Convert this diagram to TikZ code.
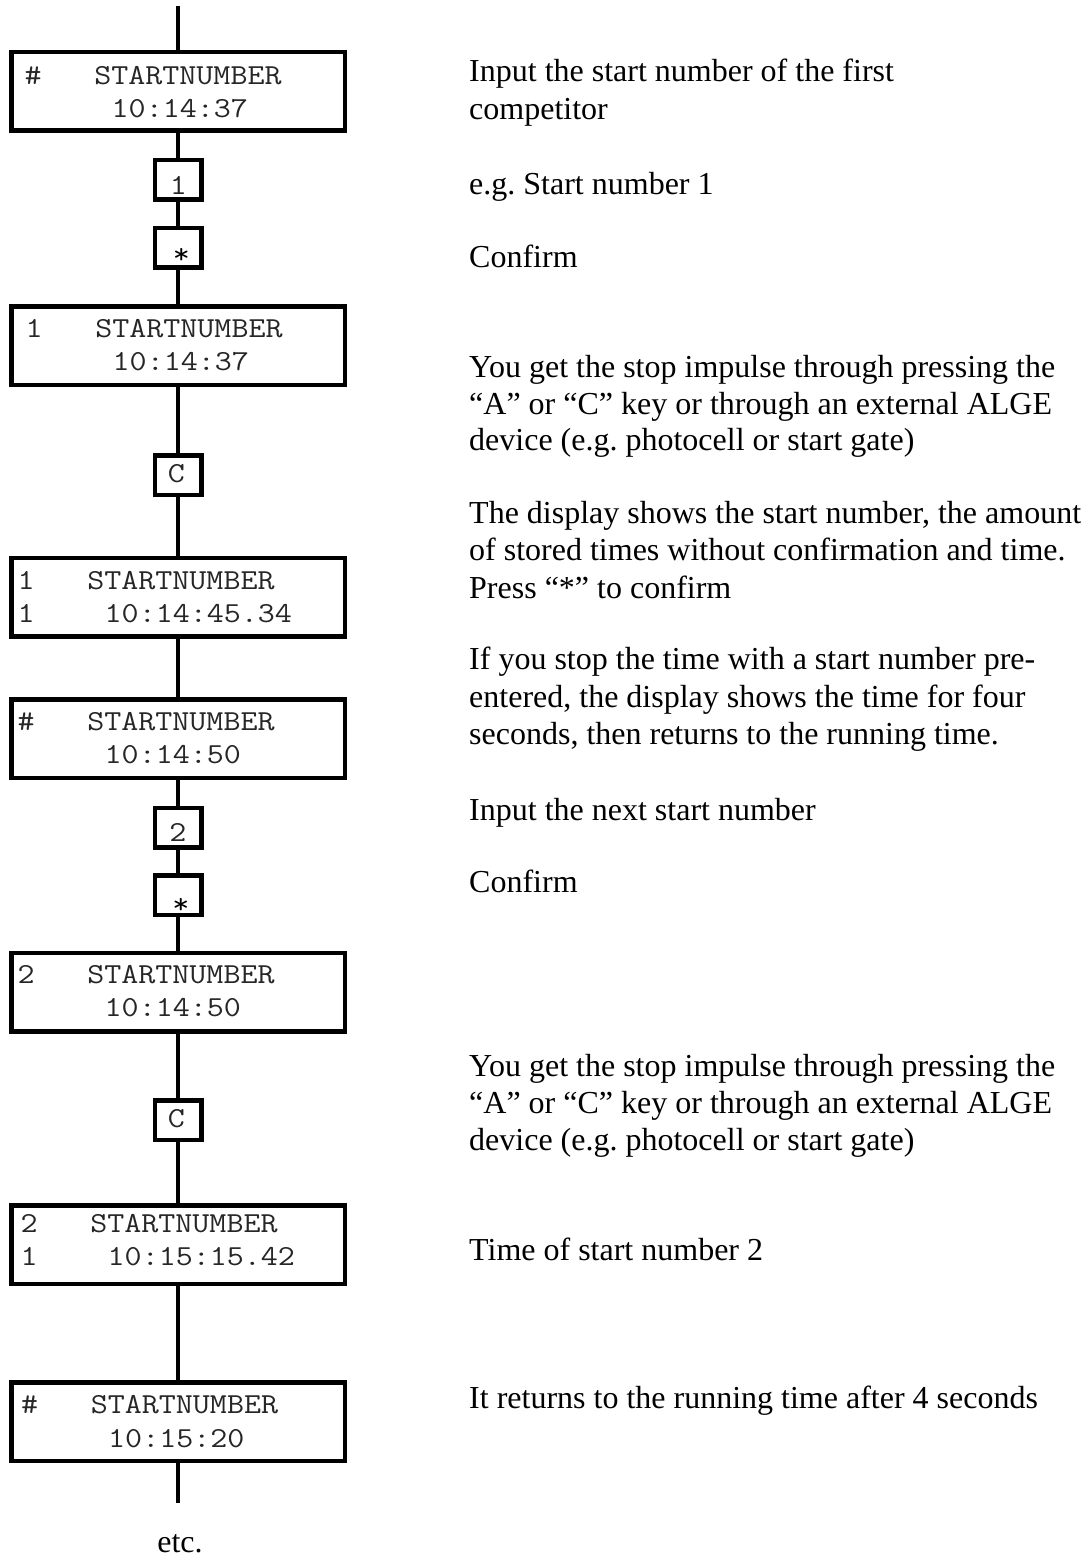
\documentclass[tikz,border=0pt]{standalone}
\usepackage{fontspec}
\setmainfont{Liberation Serif}
\newfontfamily\lcdfont{Latin Modern Mono}[FakeStretch=1.14]
\frenchspacing
\begin{document}
\begin{tikzpicture}[x=1pt,y=-1pt,
  lcd/.style={draw, line width=4.5pt, minimum width=333.5pt, minimum height=78.5pt, inner sep=0pt},
  keybox/.style={draw, line width=4.5pt, minimum width=46.5pt, minimum height=39.5pt, inner sep=0pt},
  mono/.style={anchor=base west, inner sep=0pt, text=black!85, font=\lcdfont\fontsize{29}{33}\selectfont},
  keytxt/.style={anchor=base, inner sep=0pt, text=black!85, font=\lcdfont\fontsize{29}{33}\selectfont},
  startxt/.style={anchor=north, inner sep=0pt, font=\lcdfont\fontsize{29}{33}\selectfont},
  desc/.style={anchor=base west, inner sep=0pt, font=\fontsize{32}{36.8}\selectfont},
  conn/.style={line width=3.5pt}]
\useasboundingbox (0,0) rectangle (1090,1557);

% display boxes
\node[lcd] (b1) at (178,91.5) {};
\node[lcd] (b2) at (178,345.5) {};
\node[lcd] (b3) at (178,597) {};
\node[lcd] (b4) at (178,738.5) {};
\node[lcd] (b5) at (178,992) {};
\node[lcd] (b6) at (178,1244.5) {};
\node[lcd] (b7) at (178,1421.5) {};

% key boxes
\node[keybox] (k1) at (178,180) {};
\node[keybox] (ks1) at (178,247.5) {};
\node[keybox] (kc1) at (178,475) {};
\node[keybox] (k2) at (178,827.5) {};
\node[keybox] (ks2) at (178,895) {};
\node[keybox] (kc2) at (178,1120) {};

% key texts
\node[keytxt] (k1t) at (178.5,194) {1};
\node[startxt] (ks1t) at (181.5,248) {*};
\node[keytxt] (kc1t) at (176.5,482) {C};
\node[keytxt] (k2t) at (178,841) {2};
\node[startxt] (ks2t) at (181,898) {*};
\node[keytxt] (kc2t) at (176.5,1127.5) {C};

% connectors
\coordinate (top) at (178,6);
\coordinate (bot) at (178,1503);
\draw[conn] (top) -- (b1.north);
\draw[conn] (b1.south) -- (k1.north);
\draw[conn] (k1.south) -- (ks1.north);
\draw[conn] (ks1.south) -- (b2.north);
\draw[conn] (b2.south) -- (kc1.north);
\draw[conn] (kc1.south) -- (b3.north);
\draw[conn] (b3.south) -- (b4.north);
\draw[conn] (b4.south) -- (k2.north);
\draw[conn] (k2.south) -- (ks2.north);
\draw[conn] (ks2.south) -- (b5.north);
\draw[conn] (b5.south) -- (kc2.north);
\draw[conn] (kc2.south) -- (b6.north);
\draw[conn] (b6.south) -- (b7.north);
\draw[conn] (b7.south) -- (bot);

% display texts
\node[mono] (b1a) at (24.5,85) {\#};
\node[mono] (b1b) at (94.1,85) {STARTNUMBER};
\node[mono] (b1c) at (111.5,118) {10:14:37};

\node[mono] (b2a) at (25.5,337) {1};
\node[mono] (b2b) at (95.1,337) {STARTNUMBER};
\node[mono] (b2c) at (112.5,370) {10:14:37};

\node[mono] (b3a) at (17.5,589) {1};
\node[mono] (b3b) at (87.1,589) {STARTNUMBER};
\node[mono] (b3c) at (17.5,622) {1};
\node[mono] (b3d) at (104.5,622) {10:14:45.34};

\node[mono] (b4a) at (17.5,730) {\#};
\node[mono] (b4b) at (87.1,730) {STARTNUMBER};
\node[mono] (b4c) at (104.5,763) {10:14:50};

\node[mono] (b5a) at (17.5,983) {2};
\node[mono] (b5b) at (87.1,983) {STARTNUMBER};
\node[mono] (b5c) at (104.5,1016) {10:14:50};

\node[mono] (b6a) at (20.5,1232) {2};
\node[mono] (b6b) at (90.1,1232) {STARTNUMBER};
\node[mono] (b6c) at (20.5,1265) {1};
\node[mono] (b6d) at (107.5,1265) {10:15:15.42};

\node[mono] (b7a) at (21,1413) {\#};
\node[mono] (b7b) at (90.6,1413) {STARTNUMBER};
\node[mono] (b7c) at (108,1447) {10:15:20};

% descriptions
\node[desc] (t1) at (469,82) {Input the start number of the first};
\node[desc] (t2) at (469,120) {competitor};
\node[desc] (t3) at (469,194) {e.g. Start number 1};
\node[desc] (t4) at (469,267) {Confirm};
\node[desc] (t5) at (469,377) {You get the stop impulse through pressing the};
\node[desc] (t6) at (469,414) {“A” or “C” key or through an external ALGE};
\node[desc] (t7) at (469,450) {device (e.g. photocell or start gate)};
\node[desc] (t8) at (469,523) {The display shows the start number, the amount};
\node[desc] (t9) at (469,560) {of stored times without confirmation and time.};
\node[desc] (t10) at (469,598) {Press “*” to confirm};
\node[desc] (t11) at (469,669) {If you stop the time with a start number pre-};
\node[desc] (t12) at (469,707) {entered, the display shows the time for four};
\node[desc] (t13) at (469,744) {seconds, then returns to the running time.};
\node[desc] (t14) at (469,820) {Input the next start number};
\node[desc] (t15) at (469,892) {Confirm};
\node[desc] (t16) at (469,1076) {You get the stop impulse through pressing the};
\node[desc] (t17) at (469,1113) {“A” or “C” key or through an external ALGE};
\node[desc] (t18) at (469,1150) {device (e.g. photocell or start gate)};
\node[desc] (t19) at (469,1260) {Time of start number 2};
\node[desc] (t20) at (469,1408) {It returns to the running time after 4 seconds};
\node[desc, anchor=base] (etc) at (180,1552) {etc.};
\end{tikzpicture}
\end{document}
